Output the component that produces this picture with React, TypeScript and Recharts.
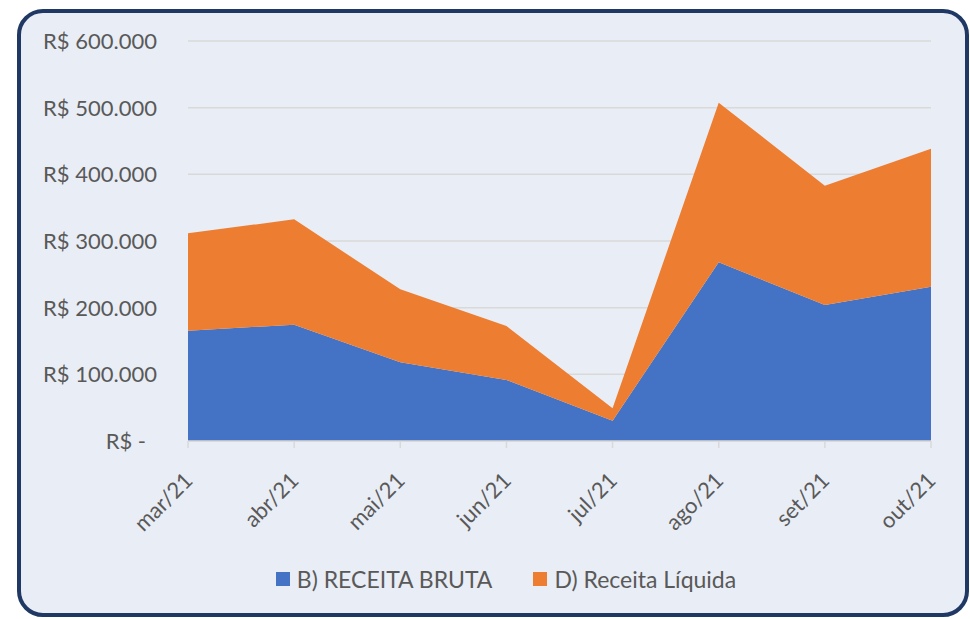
import { AreaChart, Area, XAxis, YAxis, CartesianGrid, Legend } from "recharts";

const months = ["mar/21", "abr/21", "mai/21", "jun/21", "jul/21", "ago/21", "set/21", "out/21"];
const receitaBruta = [165500, 174500, 118000, 91500, 30500, 268000, 204000, 231500];
const receitaLiquida = [146000, 158000, 109500, 81000, 18500, 239500, 179000, 207000];
const yTicks = [0, 100000, 200000, 300000, 400000, 500000, 600000];

const BLUE = "#4472C4";
const ORANGE = "#ED7D31";
const TEXT = "#595959";
const FONT = "Lato, 'Open Sans', sans-serif";
const FONT_SIZE = 22;

const data = months.map((m, i) => ({
  month: m,
  bruta: receitaBruta[i],
  liquida: receitaLiquida[i],
}));

const formatBRL = (v: number) =>
  v === 0 ? "R$ -" : "R$ " + v.toLocaleString("pt-BR").replace(/,/g, ".");

const YTick = ({ x, y, payload }: any) => (
  <text
    x={payload.value === 0 ? x - 11 : x}
    y={y}
    dy={8}
    textAnchor="end"
    fill={TEXT}
    fontSize={FONT_SIZE}
    fontFamily={FONT}
  >
    {formatBRL(payload.value)}
  </text>
);

const XTick = ({ x, y, payload }: any) => (
  <text
    transform={`translate(${x + 6},${y + 32}) rotate(-45)`}
    textAnchor="end"
    fill={TEXT}
    fontSize={FONT_SIZE}
    fontFamily={FONT}
  >
    {payload.value}
  </text>
);

const LegendContent = () => {
  const items = [
    { label: "B) RECEITA BRUTA", color: BLUE },
    { label: "D) Receita Líquida", color: ORANGE },
  ];
  return (
    <div
      style={{
        display: "flex",
        justifyContent: "center",
        gap: 41,
        paddingLeft: 26,
        fontFamily: FONT,
        fontSize: 23,
        color: TEXT,
      }}
    >
      {items.map((it) => (
        <div key={it.label} style={{ display: "flex", alignItems: "center" }}>
          <span style={{ width: 14, height: 14, background: it.color, marginRight: 7, display: "inline-block" }} />
          <span>{it.label}</span>
        </div>
      ))}
    </div>
  );
};

export default function App() {
  return (
    <div
      style={{
        position: "absolute",
        left: 17,
        top: 9,
        width: 952,
        height: 608,
        boxSizing: "border-box",
        border: "4px solid #1F3864",
        borderRadius: 26,
        background: "#E9EDF5",
        overflow: "hidden",
      }}
    >
      <AreaChart
        width={944}
        height={600}
        data={data}
        margin={{ top: 28, right: 34, bottom: 72, left: 0 }}
      >
        <CartesianGrid vertical={false} stroke="#D9D9D9" strokeWidth={1.5} />
        <XAxis
          dataKey="month"
          scale="point"
          padding={{ left: 0, right: 0 }}
          height={100}
          interval={0}
          axisLine={{ stroke: "#D9D9D9", strokeWidth: 1.5 }}
          tickLine={{ stroke: "#D9D9D9", strokeWidth: 1.5 }}
          tickSize={7}
          tickMargin={2}
          tick={<XTick />}
        />
        <YAxis
          width={167}
          domain={[0, 600000]}
          ticks={yTicks}
          axisLine={false}
          tickLine={false}
          tickSize={0}
          tickMargin={31}
          tick={<YTick />}
        />
        <Area
          type="linear"
          dataKey="bruta"
          name="B) RECEITA BRUTA"
          stackId="1"
          stroke="none"
          fill={BLUE}
          fillOpacity={1}
          isAnimationActive={false}
        />
        <Area
          type="linear"
          dataKey="liquida"
          name="D) Receita Líquida"
          stackId="1"
          stroke="none"
          fill={ORANGE}
          fillOpacity={1}
          isAnimationActive={false}
        />
        <Legend
          layout="horizontal"
          verticalAlign="middle"
          content={<LegendContent />}
          wrapperStyle={{ top: 552, left: 0, width: 944 }}
        />
      </AreaChart>
    </div>
  );
}
